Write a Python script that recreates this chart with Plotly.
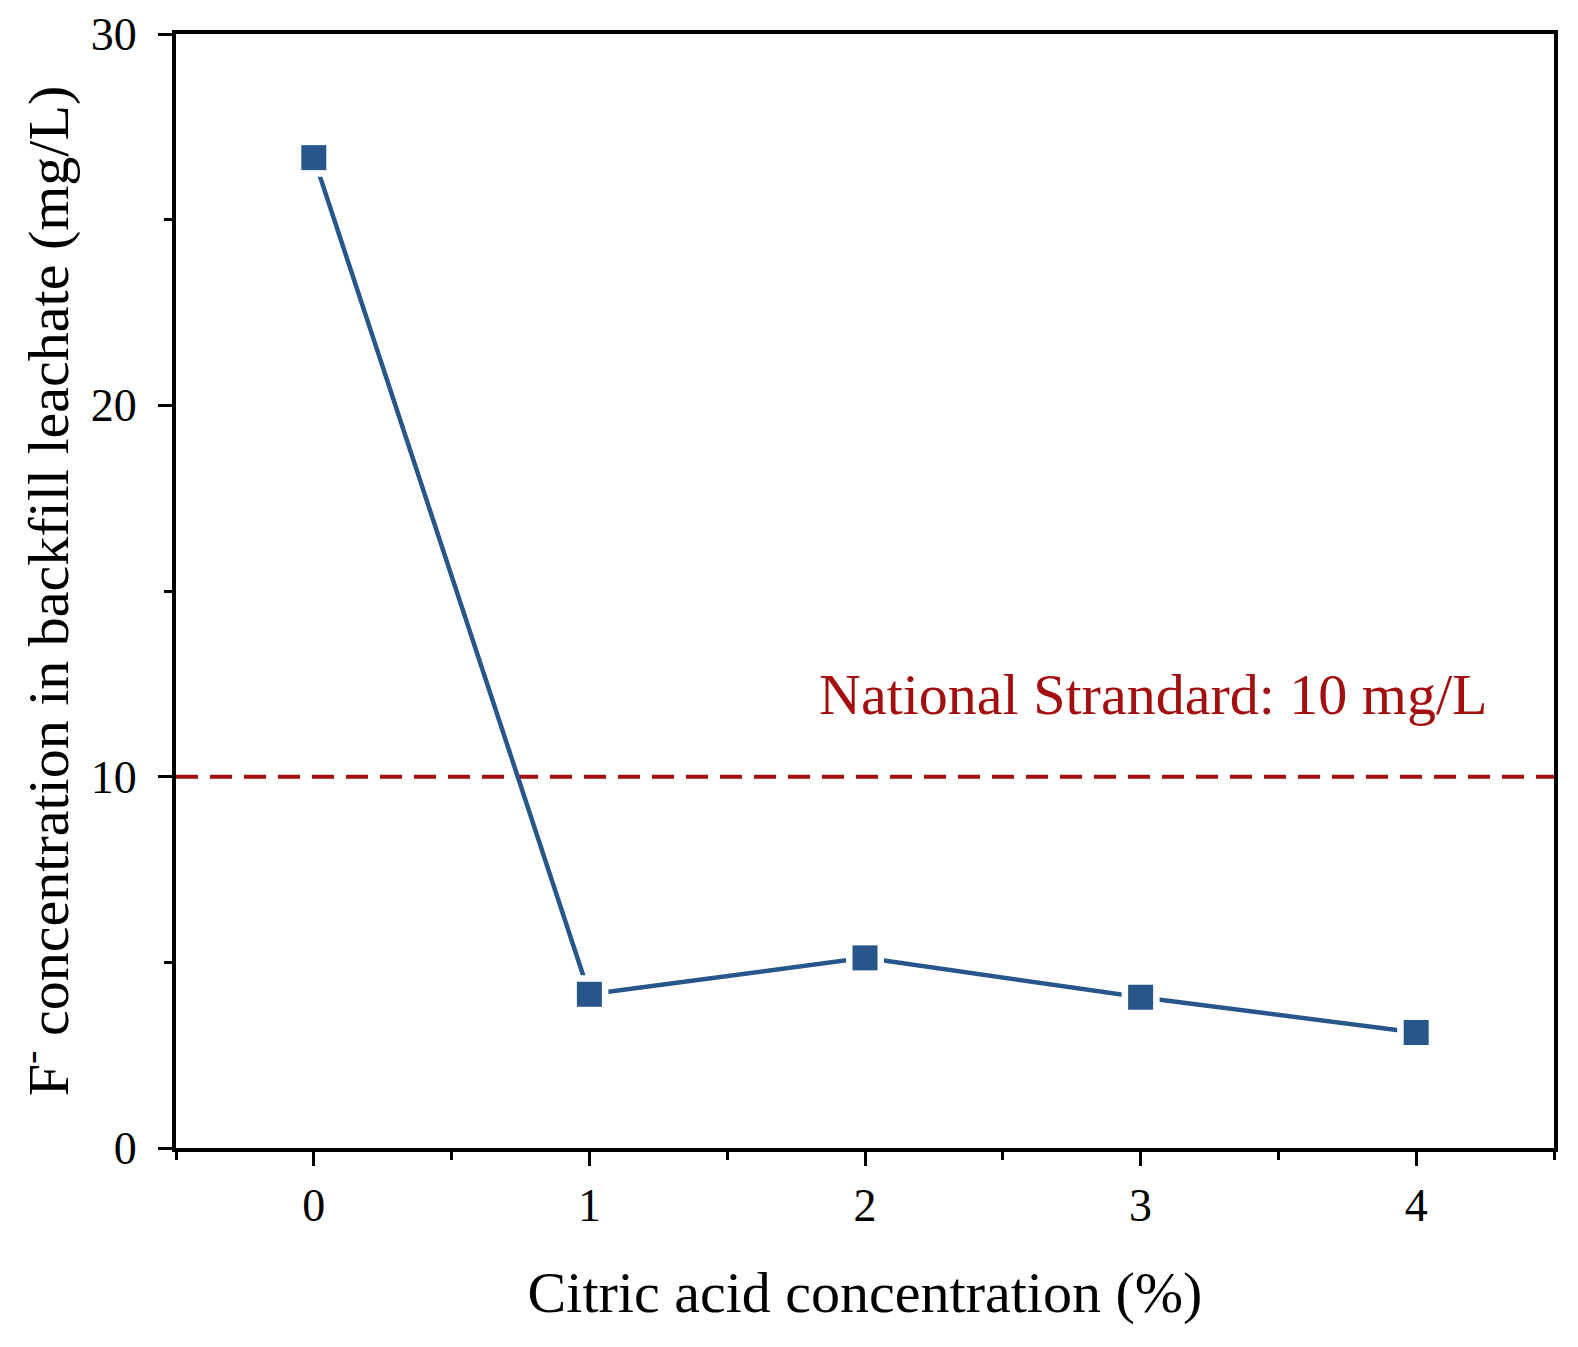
import plotly.graph_objects as go

citric = [0, 1, 2, 3, 4]
fluoride = [26.67, 4.14, 5.12, 4.06, 3.11]
standard = 10
x_range = [-0.5, 4.5]
y_range = [0, 30]

blue = "#27578A"
red = "#A30F0F"
font = "Liberation Serif"

fig = go.Figure()
fig.add_trace(go.Scatter(x=x_range, y=[standard, standard], mode="lines",
                         line=dict(color=red, width=4, dash="22px,12px"),
                         hoverinfo="skip", showlegend=False))
fig.add_trace(go.Scatter(x=citric, y=fluoride, mode="lines",
                         line=dict(color=blue, width=4.5), showlegend=False))
fig.add_trace(go.Scatter(x=citric, y=fluoride, mode="markers",
                         marker=dict(symbol="square", size=38, color="white"),
                         hoverinfo="skip", showlegend=False))
fig.add_trace(go.Scatter(x=citric, y=fluoride, mode="markers",
                         marker=dict(symbol="square", size=25, color=blue),
                         showlegend=False))

fig.add_annotation(x=1.827, y=12.2, xref="x", yref="y", text="National Strandard: 10 mg/L",
                   showarrow=False, xanchor="left", yanchor="middle",
                   font=dict(family=font, size=58, color=red))

axis_common = dict(showline=True, linecolor="black", linewidth=4, mirror=True,
                   ticks="outside", tickwidth=3, tickcolor="black", ticklen=14,
                   showgrid=False, zeroline=False, automargin=False,
                   tickfont=dict(family=font, size=46, color="black"))

fig.update_xaxes(range=x_range, tickvals=citric, ticktext=[str(c) for c in citric],
                 ticklabelstandoff=0,
                 minor=dict(tickvals=[-0.5, 0.5, 1.5, 2.5, 3.5, 4.5], ticklen=8, tickwidth=3,
                            tickcolor="black", ticks="outside"),
                 title=dict(text="Citric acid concentration (%)", standoff=42,
                            font=dict(family=font, size=58, color="black")),
                 **axis_common)
fig.update_yaxes(range=y_range, tickvals=[0, 10, 20, 30],
                 ticklabelstandoff=12,
                 minor=dict(tickvals=[5, 15, 25], ticklen=8, tickwidth=3,
                            tickcolor="black", ticks="outside"),
                 title=dict(text="F<sup>-</sup> concentration in backfill leachate (mg/L)", standoff=12,
                            font=dict(family=font, size=58, color="black")),
                 **axis_common)

fig.update_layout(width=1578, height=1347, plot_bgcolor="white", paper_bgcolor="white",
                  margin=dict(l=168, r=32, t=26, b=207))

fig.write_html("out.html")
